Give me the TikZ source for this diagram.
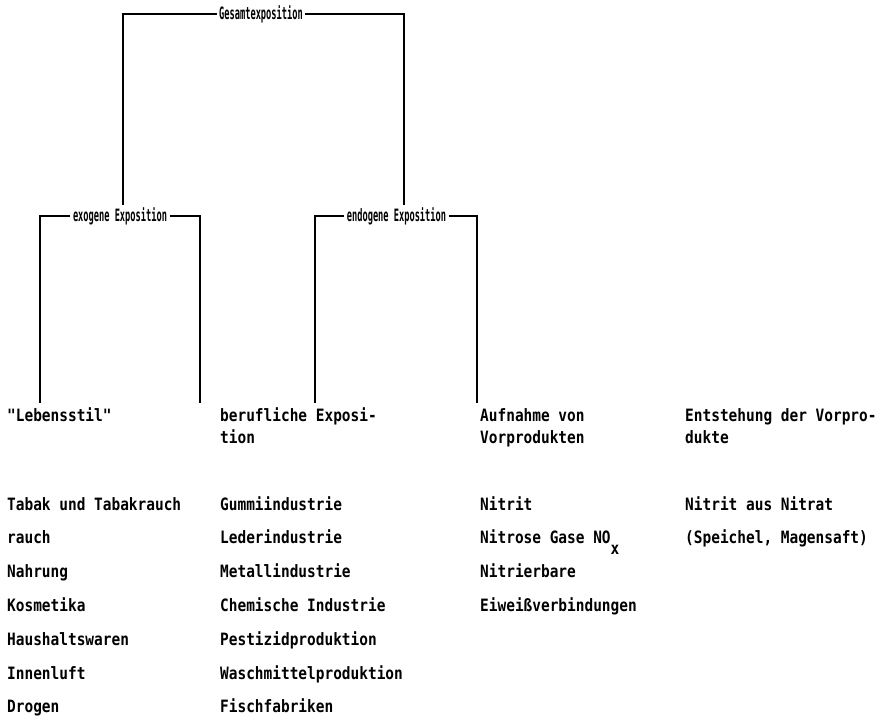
\documentclass[tikz,border=0pt]{standalone}
\usepackage{fontspec}
\newfontfamily\listfont[FakeStretch=0.85]{DejaVu Sans Mono}
\newfontfamily\headfont[FakeStretch=0.51]{DejaVu Sans Mono}

\tikzset{
    head/.style={font=\headfont\bfseries\fontsize{17}{20}\selectfont, inner sep=2.5pt},
    item/.style={font=\listfont\bfseries\fontsize{17}{22}\selectfont, anchor=base west,
        inner sep=0pt, align=left},
    branch/.style={line width=1.4pt},
}

\begin{document}
\begin{tikzpicture}[x=1pt, y=-1pt]
    %% Exposition tree

    % Params
    \def\yTop{14}
    \def\yMid{216}
    \def\yEnd{403}
    \def\yHead{421}
    \def\dHead{22}
    \def\yList{510}
    \def\dList{33.8}

    \useasboundingbox (0,0) rectangle (885,717);

    % Heads
    \node[head] (ges) at (261,\yTop) {Gesamtexposition};
    \node[head] (exo) at (120,\yMid) {exogene Exposition};
    \node[head] (endo) at (396.5,\yMid) {endogene Exposition};

    % Coords
    \coordinate (exoup) at (123,205);
    \coordinate (endoup) at (404,205);
    \coordinate (lebtop) at (40,\yEnd);
    \coordinate (beruftop) at (200,\yEnd);
    \coordinate (aufntop) at (315,\yEnd);
    \coordinate (entsttop) at (477,\yEnd);

    % Branches
    \draw[branch] (ges.west) -| (exoup);
    \draw[branch] (ges.east) -| (endoup);
    \draw[branch] (exo.west) -| (lebtop);
    \draw[branch] (exo.east) -| (beruftop);
    \draw[branch] (endo.west) -| (aufntop);
    \draw[branch] (endo.east) -| (entsttop);

    % Leaves (base = last line)
    \node[item] (leb) at (7,\yHead) {"Lebensstil"};
    \node[item] (beruf) at (220,\yHead+\dHead) {berufliche Exposi-\\tion};
    \node[item] (aufn) at (480,\yHead+\dHead) {Aufnahme von\\Vorprodukten};
    \node[item] (entst) at (685,\yHead+\dHead) {Entstehung der Vorpro-\\dukte};

    % Lists
    \foreach \t [count=\i] in {Tabak und Tabakrauch, rauch, Nahrung, Kosmetika,
        Haushaltswaren, Innenluft, Drogen}
        \node[item] (leb\i) at (7,{\yList+(\i-1)*\dList}) {\t};
    \foreach \t [count=\i] in {Gummiindustrie, Lederindustrie, Metallindustrie,
        Chemische Industrie, Pestizidproduktion, Waschmittelproduktion, Fischfabriken}
        \node[item] (beruf\i) at (220,{\yList+(\i-1)*\dList}) {\t};
    \foreach \t [count=\i] in {Nitrit, Nitrose Gase NO\raisebox{-11pt}{x}, Nitrierbare,
        Eiweißverbindungen}
        \node[item] (aufn\i) at (480,{\yList+(\i-1)*\dList}) {\t};
    \foreach \t [count=\i] in {Nitrit aus Nitrat, {(Speichel, Magensaft)}}
        \node[item] (entst\i) at (685,{\yList+(\i-1)*\dList}) {\t};

\end{tikzpicture}
\end{document}
